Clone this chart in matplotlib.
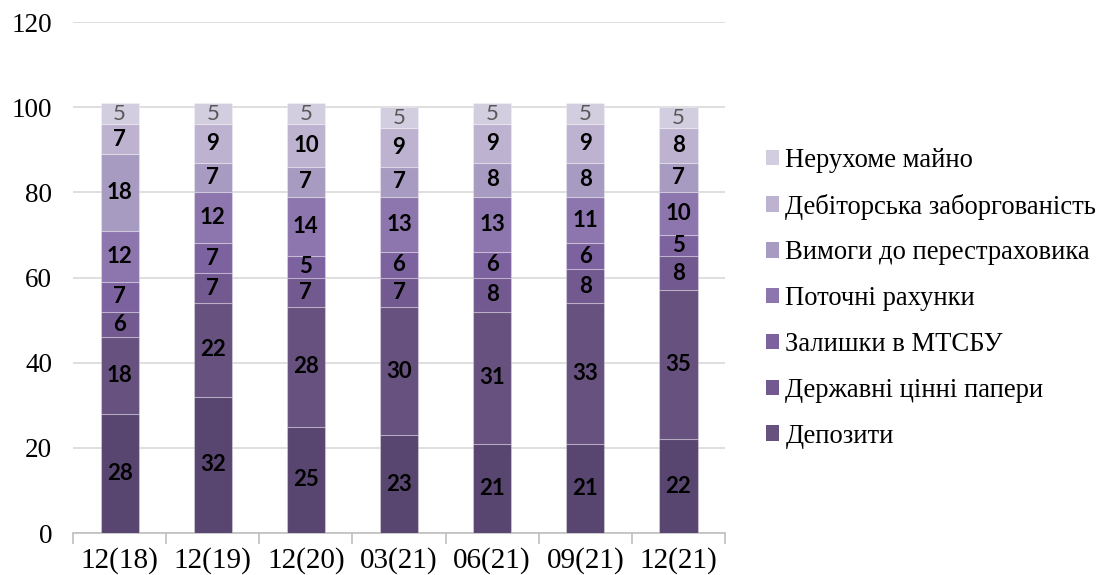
import matplotlib
matplotlib.use("Agg")
import matplotlib.pyplot as plt
from matplotlib.patches import Patch
from matplotlib.ticker import FixedLocator
import numpy as np

# Periods (month(year))
periods = ["12(18)", "12(19)", "12(20)", "03(21)", "06(21)", "09(21)", "12(21)"]

# Asset structure, % (stacked bottom to top)
other_assets = [28, 32, 25, 23, 21, 21, 22]
deposits = [18, 22, 28, 30, 31, 33, 35]
gov_securities = [6, 7, 7, 7, 8, 8, 8]
mtsbu_balances = [7, 7, 5, 6, 6, 6, 5]
current_accounts = [12, 12, 14, 13, 13, 11, 10]
reinsurer_claims = [18, 7, 7, 7, 8, 8, 7]
receivables = [7, 9, 10, 9, 9, 9, 8]
real_estate = [5, 5, 5, 5, 5, 5, 5]

series = [
    (None, other_assets, "#584670"),
    ("Депозити", deposits, "#67527f"),
    ("Державні цінні папери", gov_securities, "#72598f"),
    ("Залишки в МТСБУ", mtsbu_balances, "#7d62a0"),
    ("Поточні рахунки", current_accounts, "#8d76ad"),
    ("Вимоги до перестраховика", reinsurer_claims, "#a89bc1"),
    ("Дебіторська заборгованість", receivables, "#bdb3d0"),
    ("Нерухоме майно", real_estate, "#d3cde0"),
]

fig = plt.figure(figsize=(11, 5.75), dpi=100)
ax = fig.add_axes([0.0664, 0.073, 0.5927, 0.8887])

x = np.arange(len(periods))
bottom = np.zeros(len(periods))
width = 0.41
handles = []
for i, (name, vals, color) in enumerate(series):
    vals = np.array(vals, dtype=float)
    ax.bar(x, vals, width, bottom=bottom, color=color,
           edgecolor=(1, 1, 1, 0.3), linewidth=0.8, zorder=3)
    top = i == len(series) - 1
    for xi, b, v in zip(x, bottom, vals):
        ax.text(xi, b + v / 2, f"{int(v)}", ha="center", va="center",
                family="Lato", fontsize=16,
                fontweight="normal" if top else "bold",
                color="#595959" if top else "black", zorder=4)
    bottom += vals
    if name is not None:
        handles.append(Patch(facecolor=color, edgecolor="none", label=name))

ax.set_xlim(-0.5, len(periods) - 0.5)
ax.set_ylim(0, 120)
ax.set_yticks(np.arange(0, 121, 20))
ax.yaxis.grid(True, color="#d9d9d9", linewidth=1.2, zorder=0)
ax.set_axisbelow(True)

for side in ("left", "right", "top"):
    ax.spines[side].set_visible(False)
ax.spines["bottom"].set_color("#bfbfbf")
ax.spines["bottom"].set_linewidth(1.2)

ax.set_xticks(x)
ax.set_xticklabels(periods, family="Liberation Serif", fontsize=21)
ax.xaxis.set_minor_locator(FixedLocator(np.arange(-0.5, len(periods), 1.0)))
ax.tick_params(axis="x", which="major", length=0, pad=10)
ax.tick_params(axis="x", which="minor", length=8, width=1.2, color="#bfbfbf",
               direction="out")
ax.tick_params(axis="y", length=0, pad=15)
for lbl in ax.get_yticklabels():
    lbl.set_family("Liberation Serif")
    lbl.set_fontsize(19.5)

leg = fig.legend(handles=handles[::-1], loc="upper left",
                 bbox_to_anchor=(0.696, 0.743), frameon=False,
                 prop={"family": "Liberation Serif", "size": 19.2},
                 handlelength=0.52, handleheight=0.52, handletextpad=0.22,
                 labelspacing=0.78, borderaxespad=0, borderpad=0)

fig.savefig("out.png", dpi=100, facecolor="white")
